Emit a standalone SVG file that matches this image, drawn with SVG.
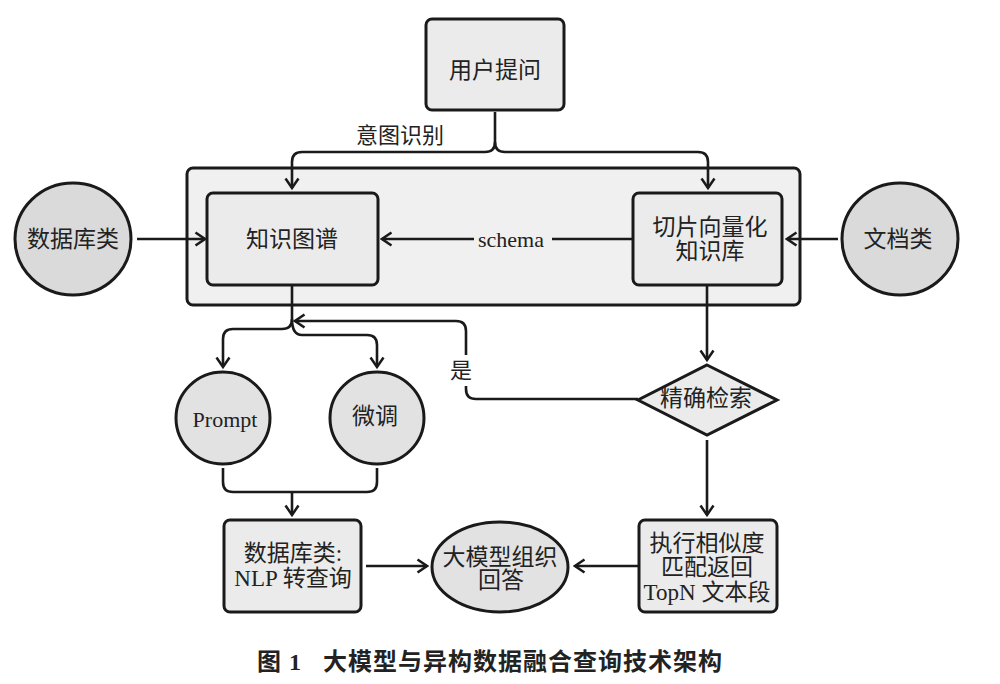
<svg xmlns="http://www.w3.org/2000/svg" width="1000" height="684" viewBox="0 0 1000 684">
<style>
.box{fill:#ebebeb;stroke:#1a1a1a;stroke-width:3}
.cont{fill:#f0f0f0;stroke:#1a1a1a;stroke-width:3}
.circ{fill:#dadada;stroke:#1a1a1a;stroke-width:3}
.ell{fill:#e2e2e2;stroke:#1a1a1a;stroke-width:3}
.ln{fill:none;stroke:#1a1a1a;stroke-width:2.6}
.arr{marker-end:url(#ah)}
.t{font-family:"Liberation Serif","Noto Sans CJK SC",serif;font-size:23px;fill:#222;text-anchor:middle;dominant-baseline:central}
.lbl{font-size:22px}
.cap{font-family:"Liberation Serif","Noto Sans CJK SC",sans-serif;font-size:24px;font-weight:bold;fill:#222;letter-spacing:1px}
</style>
<defs>
<marker id="ah" viewBox="0 0 13 16" refX="11" refY="8" markerWidth="13" markerHeight="16" markerUnits="userSpaceOnUse" orient="auto">
<path d="M1.5,1.5 L11,8 L1.5,14.5" fill="none" stroke="#1a1a1a" stroke-width="2.5"/>
</marker>
</defs>
<rect width="1000" height="684" fill="#ffffff"/>

<g id="container">
<rect class="cont" x="187" y="168" width="613" height="137" rx="6"/>
</g>

<g id="user-question">
<rect class="box" x="426" y="19" width="138" height="91" rx="6"/>
<text class="t" x="495" y="70">用户提问</text>
</g>

<g id="knowledge-graph">
<rect class="box" x="207" y="193" width="171" height="92" rx="6"/>
<text class="t" x="292" y="239">知识图谱</text>
</g>

<g id="vector-kb">
<rect class="box" x="633" y="193" width="149" height="92" rx="6"/>
<text class="t" x="710" y="227">切片向量化</text>
<text class="t" x="710" y="251">知识库</text>
</g>

<g id="database-src">
<ellipse class="circ" cx="73" cy="239" rx="58" ry="56"/>
<text class="t" x="73" y="239">数据库类</text>
</g>

<g id="document-src">
<ellipse class="circ" cx="900" cy="239" rx="58" ry="56"/>
<text class="t" x="898" y="239">文档类</text>
</g>

<g id="prompt">
<ellipse class="ell" cx="223" cy="418" rx="47" ry="46"/>
<text class="t lbl" x="225" y="419">Prompt</text>
</g>

<g id="finetune">
<ellipse class="ell" cx="377" cy="418" rx="47" ry="46"/>
<text class="t" x="375" y="416">微调</text>
</g>

<g id="exact-search">
<polygon class="box" points="707,365 777,400 707,435 638,400"/>
<text class="t" x="706" y="398">精确检索</text>
</g>

<g id="nlp-query">
<rect class="box" x="224" y="520" width="137" height="92" rx="6"/>
<text class="t" x="293" y="553">数据库类:</text>
<text class="t" x="293" y="578">NLP 转查询</text>
</g>

<g id="llm-answer">
<ellipse class="ell" cx="500" cy="567" rx="68" ry="45"/>
<text class="t" x="500" y="557">大模型组织</text>
<text class="t" x="501" y="580">回答</text>
</g>

<g id="similarity">
<rect class="box" x="639" y="520" width="138" height="92" rx="6"/>
<text class="t" x="707" y="543">执行相似度</text>
<text class="t" x="707" y="567">匹配返回</text>
<text class="t" x="707" y="592">TopN 文本段</text>
</g>

<g id="connectors">
<path class="ln" d="M495,112 V142 Q495,152 485,152 H302 Q292,152 292,162 V188" marker-end="url(#ah)"/>
<path class="ln" d="M495,142 Q495,152 505,152 H698 Q708,152 708,162 V188" marker-end="url(#ah)"/>
<text class="t lbl" x="400" y="135">意图识别</text>

<path class="ln" d="M137,239 H205" marker-end="url(#ah)"/>
<path class="ln" d="M838,239 H787" marker-end="url(#ah)"/>

<path class="ln" d="M633,239 H552"/>
<path class="ln" d="M474,239 H382" marker-end="url(#ah)"/>
<text class="t lbl" x="511" y="239">schema</text>

<path class="ln" d="M292,285 V319 Q292,329 282,329 H233 Q223,329 223,339 V367" marker-end="url(#ah)"/>
<path class="ln" d="M292,319 Q292,335 302,335 H367 Q377,335 377,345 V367" marker-end="url(#ah)"/>

<path class="ln" d="M707,285 V360" marker-end="url(#ah)"/>

<path class="ln" d="M638,399 H476 Q466,399 466,389 V386"/>
<path class="ln" d="M466,355 V331 Q466,321 456,321 H295" marker-end="url(#ah)"/>
<text class="t lbl" x="461" y="370">是</text>

<path class="ln" d="M707,440 V515" marker-end="url(#ah)"/>

<path class="ln" d="M223,468 V482 Q223,492 233,492 H367 Q377,492 377,482 V468"/>
<path class="ln" d="M292,492 V515" marker-end="url(#ah)"/>

<path class="ln" d="M366,566 H427" marker-end="url(#ah)"/>
<path class="ln" d="M638,566 H575" marker-end="url(#ah)"/>
</g>

<text class="cap" x="257" y="670">图 1<tspan x="323">大模型与异构数据融合查询技术架构</tspan></text>
</svg>
